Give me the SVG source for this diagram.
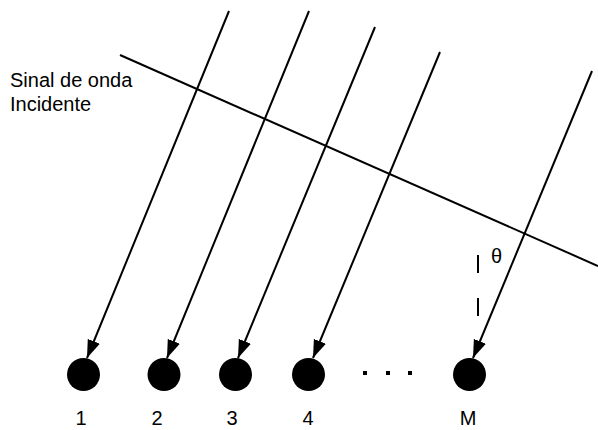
<svg xmlns="http://www.w3.org/2000/svg" width="598" height="430" viewBox="0 0 598 430">
<style>
.ln{stroke:#000;stroke-width:2;fill:none}
.ray{stroke:#000;stroke-width:2;fill:none;marker-end:url(#ah)}
.el{fill:#000}
.t{font-family:"Liberation Sans",Arial,sans-serif;font-size:20px;fill:#000}
.dash{stroke:#000;stroke-width:2}
</style>
<defs>
<marker id="ah" markerUnits="userSpaceOnUse" markerWidth="20" markerHeight="14" refX="18" refY="7" orient="auto">
<path d="M0,0.5 L18,7 L0,13.5 z" fill="#000"/>
</marker>
</defs>
<rect width="598" height="430" fill="#fff"/>
<g id="wavefront">
<line class="ln" x1="120" y1="55" x2="598" y2="266"/>
<text class="t" x="10" y="87">Sinal de onda</text>
<text class="t" x="10" y="111">Incidente</text>
</g>
<g id="connectors">
<line class="ray" x1="229" y1="11" x2="87" y2="358"/>
<line class="ray" x1="309" y1="11" x2="167" y2="358"/>
<line class="ray" x1="375" y1="27" x2="238" y2="358"/>
<line class="ray" x1="440" y1="52" x2="313" y2="358"/>
<line class="ray" x1="592" y1="71" x2="473" y2="358"/>
</g>
<g id="angle">
<line class="dash" x1="478" y1="255" x2="478" y2="273"/>
<line class="dash" x1="478" y1="298" x2="478" y2="316"/>
<text class="t" x="491" y="263">θ</text>
</g>
<g id="n1"><circle class="el" cx="83.5" cy="374.5" r="16.5"/><text class="t" x="81" y="425" text-anchor="middle">1</text></g>
<g id="n2"><circle class="el" cx="164" cy="374.5" r="16.5"/><text class="t" x="157" y="425" text-anchor="middle">2</text></g>
<g id="n3"><circle class="el" cx="235.5" cy="374.5" r="16.5"/><text class="t" x="232" y="425" text-anchor="middle">3</text></g>
<g id="n4"><circle class="el" cx="308.5" cy="374.5" r="16.5"/><text class="t" x="308" y="425" text-anchor="middle">4</text></g>
<g id="dots">
<rect x="363" y="371" width="4" height="4"/>
<rect x="386" y="371" width="4" height="4"/>
<rect x="408" y="371" width="4" height="4"/>
</g>
<g id="nM"><circle class="el" cx="469.5" cy="374.5" r="16.5"/><text class="t" x="468" y="425" text-anchor="middle">M</text></g>
</svg>
